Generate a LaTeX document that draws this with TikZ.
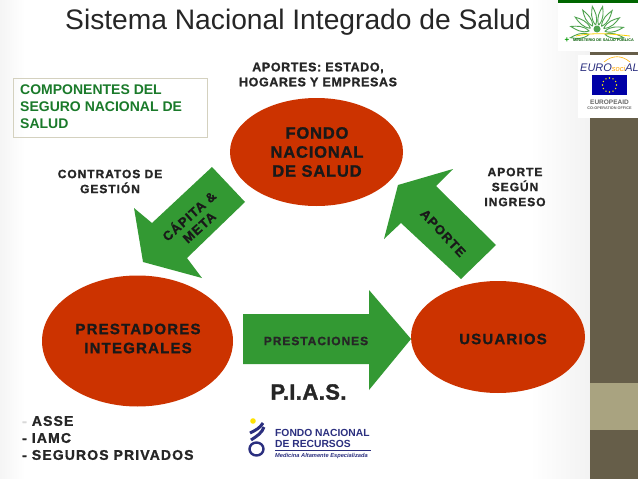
\documentclass[tikz,border=0pt]{standalone}
\usepackage{fontspec}
\setmainfont{Liberation Sans}
\newfontfamily\widef{Liberation Sans}[LetterSpace=8,BoldFeatures={FakeBold=1.2}]
\newfontfamily\widem{Liberation Sans}[LetterSpace=5,BoldFeatures={FakeBold=1.2}]
\newfontfamily\widen{Liberation Sans}[LetterSpace=2,BoldFeatures={FakeBold=1.6}]
\usetikzlibrary{shapes.geometric}
\definecolor{oval}{HTML}{CC3300}
\definecolor{arrowgreen}{HTML}{339933}
\definecolor{band}{HTML}{665E49}
\definecolor{bandlight}{HTML}{A9A380}
\definecolor{compgreen}{HTML}{1A7A2A}
\definecolor{navy}{HTML}{2B2F7F}
\definecolor{ink}{HTML}{262626}
\definecolor{sun}{HTML}{4FA34F}
\tikzset{
  x=1pt,y=-1pt,
  oval/.style={ellipse,fill=oval,draw=none,inner sep=0pt},
  garrow/.style={fill=arrowgreen,draw=none},
  lab/.style={text=ink,align=center,inner sep=0pt},
  lab12/.style={lab,font=\widef\bfseries\fontsize{12}{15}\selectfont},
  lab15/.style={lab,text=black!90,font=\widef\bfseries\fontsize{15}{19}\selectfont},
  logotext/.style={inner sep=0pt,anchor=west,text=navy},
}
\begin{document}
\begin{tikzpicture}
\useasboundingbox (0,0) rectangle (638,479);
\fill[white] (0,0) rectangle (638,479);
\shade[left color=white,right color=black!5] (530,0) rectangle (590,479);
\shade[left color=black!4,right color=white] (0,0) rectangle (25,479);
% side band
\fill[band] (590,52) rectangle (638,479);
\fill[bandlight] (590,383) rectangle (638,430);
% ministry logo
\fill[white] (558,0) rectangle (638,51);
\fill[green!40!black] (558,0) rectangle (638,3);
\foreach \a in {-10,12,34,56,78,100,122,144,166,190} {
  \draw[sun,line width=.9pt,rotate around={\a:(597,33)}] (605,33) .. controls (612,29) and (618,31) .. (624,33) .. controls (618,35) and (612,37) .. (605,33);
}
\fill[sun] (597,29) circle (3.5);
\draw[yellow!70!orange,line width=.8pt] (576,36) .. controls (590,33) and (605,33) .. (630,36);
\node[inner sep=0pt,anchor=west,text=green!35!black,font=\bfseries\fontsize{3.8}{4}\selectfont] (mlogo) at (573,40) {MINISTERIO DE SALUD PÚBLICA};
\node[inner sep=0pt,text=green!60!black,font=\bfseries\fontsize{8}{8}\selectfont] (mcross) at (567,40) {+};
% eurosocial logo
\fill[white] (578,55) rectangle (638,118);
\node[inner sep=0pt,anchor=west,text=navy,font=\itshape\fontsize{11}{11}\selectfont] (eurosoc) at (580,68) {EURO\textcolor{orange!70!yellow}{{\fontsize{7.5}{7.5}\selectfont soci}}AL};
\draw[orange!60!yellow,line width=.6pt] (604,62) .. controls (612,55) and (622,55) .. (630,62);
\fill[blue!65!black] (592,75) rectangle (627,95);
\foreach \a in {0,30,...,330} \fill[yellow] (609.5,85) ++(\a:7) circle (.8);
\node[inner sep=0pt,text=black!60,font=\bfseries\fontsize{6.5}{7}\selectfont] (eaid) at (609.5,102) {EUROPEAID};
\node[inner sep=0pt,text=black!60,font=\bfseries\fontsize{3.8}{4}\selectfont] (eoff) at (609.5,108.5) {CO-OPERATION OFFICE};
% title
\node[inner sep=0pt,anchor=base west,text=ink,font=\fontsize{28.2}{28}\selectfont] (title) at (65,30) {Sistema Nacional Integrado de Salud};
% component box
\node[draw=bandlight!50,line width=.7pt,minimum width=194,minimum height=59,anchor=north west,inner sep=0pt] (compbox) at (13,78) {};
\node[inner sep=0pt,anchor=west,align=left,text=compgreen,font=\bfseries\fontsize{14}{17}\selectfont] (comp) at (20,107) {COMPONENTES DEL\\SEGURO NACIONAL DE\\SALUD};
% ovals
\node[oval,minimum width=173,minimum height=108] (fondo) at (316.5,152) {};
\node[oval,minimum width=191,minimum height=131] (prest) at (137.5,341) {};
\node[oval,minimum width=174,minimum height=112] (usu) at (498,337) {};
\node[lab15,font=\widem\bfseries\fontsize{16.5}{19}\selectfont] (fondot) at (317,152) {FONDO\\NACIONAL\\DE SALUD};
\node[lab15] (prestt) at (138,338.5) {PRESTADORES\\INTEGRALES};
\node[lab15] (usut) at (503,339) {USUARIOS};
% arrows
\fill[garrow] (212,167) -- (245,202) -- (187,258) -- (202,278) -- (143,262) -- (134,208) -- (152,223) -- cycle;
\fill[garrow] (496,245) -- (461,279) -- (401,223) -- (384,239) -- (398,185) -- (453,169) -- (436,186) -- cycle;
\fill[garrow] (243,314) -- (369,314) -- (369,290) -- (411,339) -- (369,390) -- (369,364) -- (243,364) -- cycle;
\node[lab,rotate=42,text=black!90,font=\widef\bfseries\fontsize{13}{15}\selectfont] (capita) at (193.5,221) {CÁPITA \&\\META};
\node[lab,rotate=-47,text=black!90,font=\widef\bfseries\fontsize{13}{15}\selectfont] (aporte) at (443,233) {APORTE};
\node[lab12] (prestac) at (316,341) {PRESTACIONES};
% notes
\node[lab12,font=\widem\bfseries\fontsize{12.5}{15}\selectfont] (aportes) at (318,74.5) {APORTES: ESTADO,\\HOGARES Y EMPRESAS};
\node[lab12] (contratos) at (110,181.5) {CONTRATOS DE\\GESTIÓN};
\node[lab12] (segun) at (515,187) {APORTE\\SEGÚN\\INGRESO};
\node[lab,font=\widen\bfseries\fontsize{22}{22}\selectfont] (pias) at (308.5,392) {P.I.A.S.};
\node[inner sep=0pt,anchor=west,align=left,text=ink,font=\widef\bfseries\fontsize{14}{17}\selectfont] (lista) at (22,438) {{\color{black!15}-} ASSE\\- IAMC\\- SEGUROS PRIVADOS};
% FNR logo
\draw[navy,line width=2.4pt] (256.5,449) ellipse (7 and 6.5);
\draw[navy,line width=3pt] (251,440) .. controls (257,436) and (262,433) .. (264,427);
\draw[navy,line width=3pt] (250,433) .. controls (256,430) and (260,428) .. (263,423);
\fill[yellow!85!orange] (253,421) circle (2.8);
\node[logotext,font=\bfseries\fontsize{10.3}{10}\selectfont] (fn1) at (275,433) {FONDO NACIONAL};
\node[logotext,font=\bfseries\fontsize{10.3}{10}\selectfont] (fn2) at (275,444) {DE RECURSOS};
\draw[navy,line width=.4pt] (275,450) -- (371,450);
\node[logotext,font=\bfseries\itshape\fontsize{5.7}{6}\selectfont] (fn3) at (275,456) {Medicina Altamente Especializada};
\end{tikzpicture}
\end{document}
